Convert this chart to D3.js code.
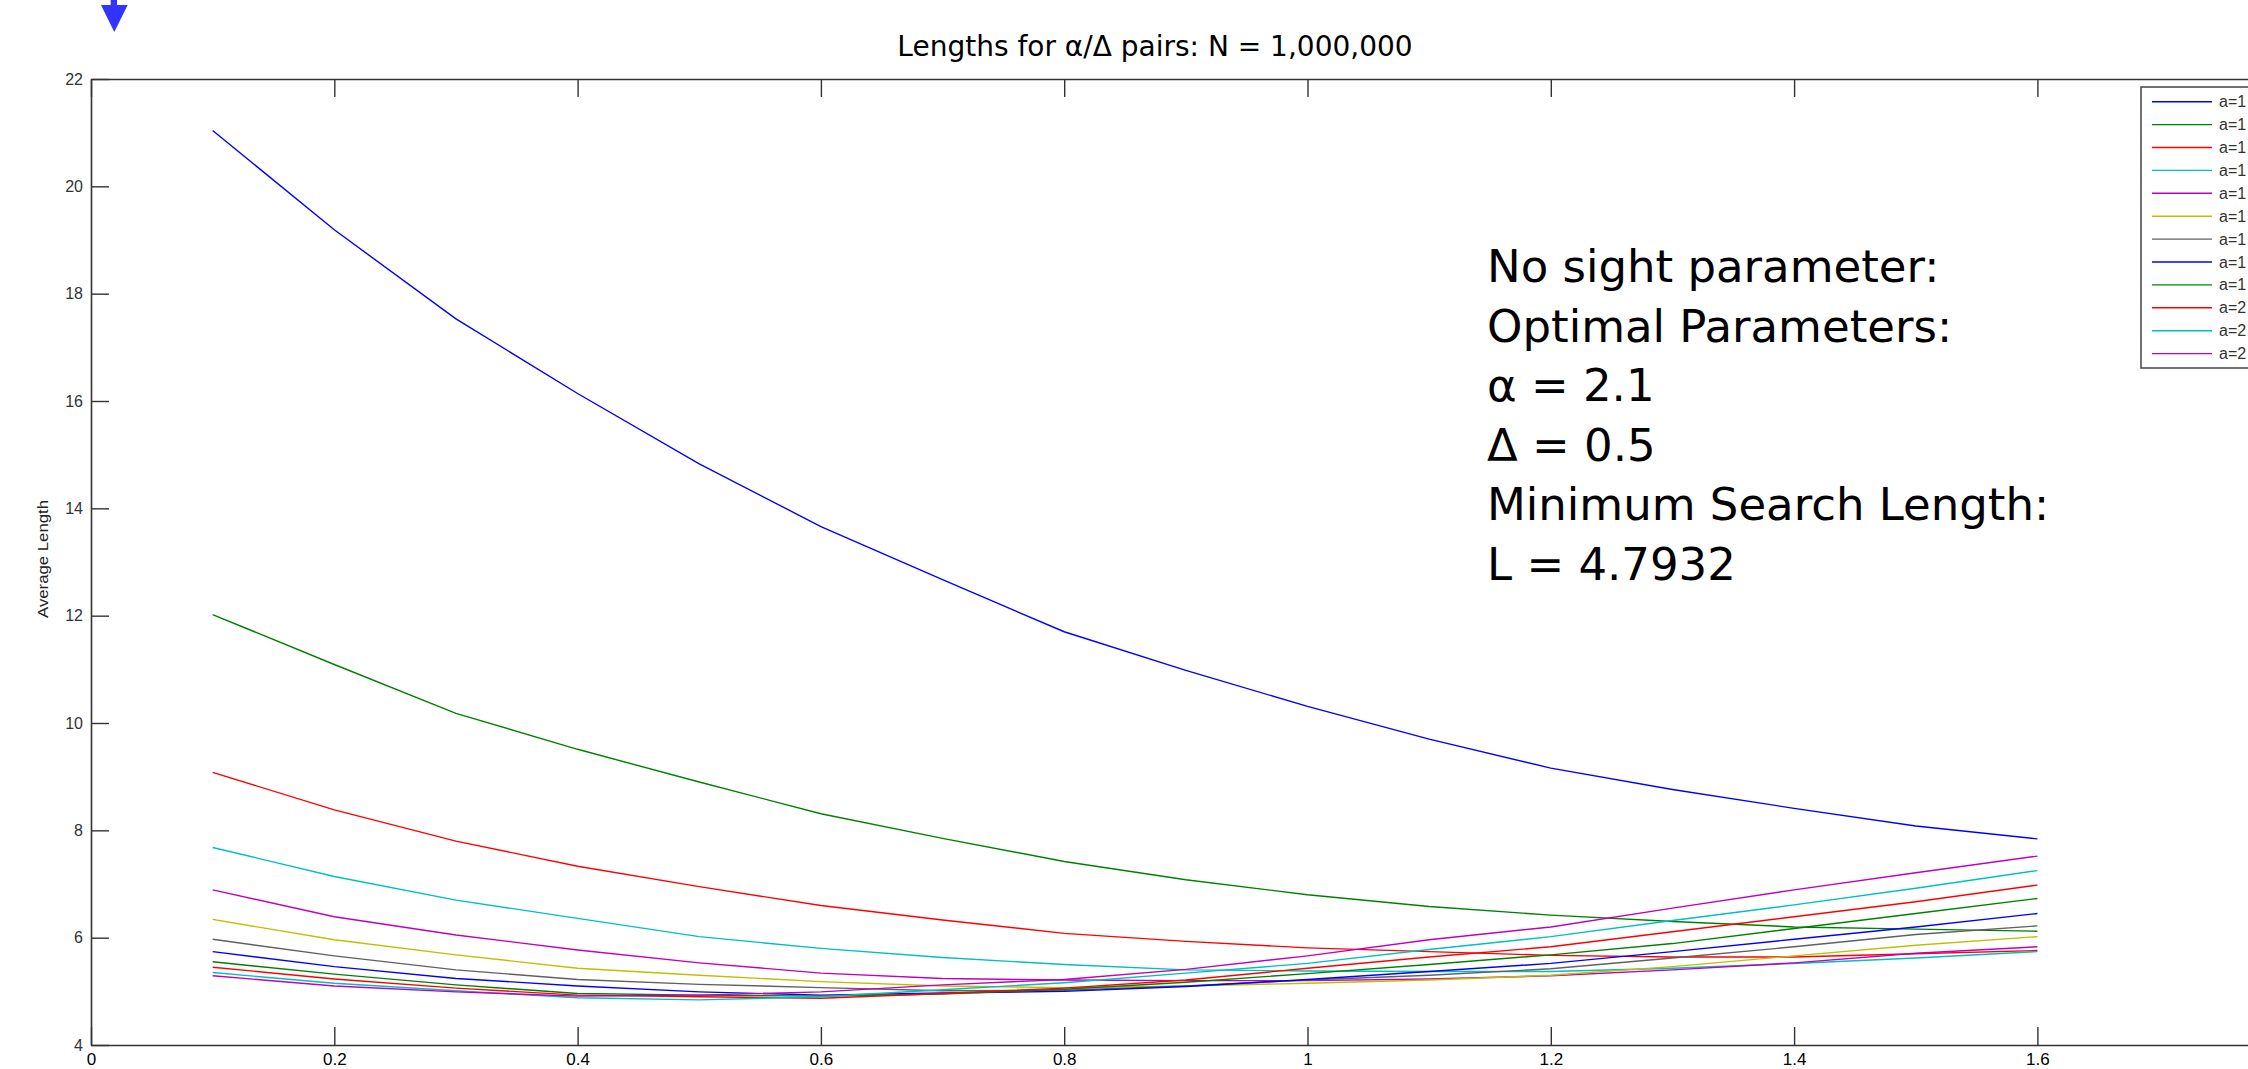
<!DOCTYPE html>
<html>
<head>
<meta charset="utf-8">
<script src="https://cdn.jsdelivr.net/npm/d3@7"></script>
<style>
  html, body { margin: 0; padding: 0; background: #fff; overflow: hidden; }
  svg { display: block; overflow: hidden; }
</style>
</head>
<body>
<svg id="chart" width="2248" height="1069"></svg>
<script>
// ---------------- data ----------------
const deltas = [0.1,0.2,0.3,0.4,0.5,0.6,0.7,0.8,0.9,1.0,1.1,1.2,1.3,1.4,1.5,1.6];
// legend labels as visible in the (cropped) reference
const seriesNames = ["a=1","a=1","a=1","a=1","a=1","a=1","a=1","a=1","a=1","a=2","a=2","a=2"];
const s1  = [21.04,19.19,17.53,16.14,14.83,13.66,12.67,11.70,10.98,10.31,9.70,9.16,8.76,8.41,8.08,7.84];
const s2  = [12.02,11.09,10.18,9.51,8.90,8.31,7.85,7.42,7.08,6.80,6.58,6.42,6.30,6.20,6.16,6.12];
const s3  = [9.08,8.38,7.80,7.33,6.95,6.60,6.33,6.08,5.93,5.81,5.74,5.67,5.64,5.64,5.70,5.76];
const s4  = [7.68,7.14,6.70,6.36,6.02,5.80,5.63,5.50,5.40,5.38,5.37,5.37,5.43,5.52,5.62,5.74];
const s5  = [6.89,6.39,6.05,5.77,5.53,5.34,5.24,5.21,5.20,5.20,5.23,5.29,5.40,5.53,5.71,5.83];
const s6  = [6.34,5.96,5.68,5.43,5.30,5.18,5.10,5.07,5.10,5.15,5.21,5.30,5.46,5.66,5.86,6.02];
const s7  = [5.97,5.66,5.40,5.22,5.13,5.07,5.01,5.02,5.10,5.21,5.30,5.42,5.62,5.83,6.06,6.22];
const s8  = [5.74,5.46,5.24,5.10,4.99,4.93,4.97,5.00,5.09,5.22,5.37,5.52,5.74,5.97,6.20,6.45];
const s9  = [5.55,5.32,5.12,4.96,4.93,4.91,4.95,5.04,5.17,5.33,5.50,5.68,5.89,6.17,6.45,6.73];
const s10 = [5.45,5.23,5.06,4.93,4.90,4.87,4.96,5.06,5.21,5.43,5.64,5.83,6.11,6.39,6.67,6.98];
const s11 = [5.35,5.15,5.01,4.88,4.84,4.90,5.03,5.16,5.34,5.52,5.78,6.02,6.32,6.61,6.92,7.25];
const s12 = [5.29,5.10,4.99,4.91,4.93,4.99,5.12,5.22,5.41,5.66,5.96,6.20,6.55,6.89,7.21,7.52];
const allSeries = [s1,s2,s3,s4,s5,s6,s7,s8,s9,s10,s11,s12];
const colors = ["#0000ff","#008000","#ff0000","#00bfbf","#bf00bf","#bfbf00","#606060","#0000ff","#008000","#ff0000","#00bfbf","#bf00bf"];
const xTicks = [0,0.2,0.4,0.6,0.8,1.0,1.2,1.4,1.6];
const yTicks = [4,6,8,10,12,14,16,18,20,22];
const titleText = "Lengths for \u03B1/\u0394 pairs: N = 1,000,000";
const yLabel = "Average Length";
const noteLines = ["No sight parameter:","Optimal Parameters:","\u03B1 = 2.1","\u0394 = 0.5","Minimum Search Length:","L = 4.7932"];

// ---------------- layout ----------------
const svg = d3.select("#chart");
const plotLeft = 91, plotTop = 79, plotBottom = 1045;
const x = d3.scaleLinear().domain([0, 1.8]).range([plotLeft, plotLeft + 1.8 * 1216.5]);
const y = d3.scaleLinear().domain([4, 22]).range([plotBottom, plotTop]);
const plotRight = x(1.8);

// lines
const line = d3.line().x((d, i) => x(deltas[i])).y(d => y(d));
svg.append("g").selectAll("path").data(allSeries).join("path")
  .attr("d", d => line(d))
  .attr("fill", "none")
  .attr("stroke", (d, i) => colors[i])
  .attr("stroke-width", 1.4);

// axes
const fmt = d => String(+(+d).toFixed(1));
const axColor = "#333";
function styleAxis(g, showText) {
  g.select(".domain").attr("stroke", axColor).attr("stroke-width", 1.6);
  g.selectAll(".tick line").attr("stroke", axColor).attr("stroke-width", 1.4);
  if (!showText) g.selectAll(".tick text").remove();
}
const gx = svg.append("g").attr("transform", `translate(0,${plotBottom})`)
  .call(d3.axisBottom(x).tickValues(xTicks).tickFormat(fmt).tickSizeInner(-18).tickSizeOuter(0).tickPadding(8));
styleAxis(gx, true);
gx.selectAll(".tick text").attr("font-family", "Liberation Sans, Arial, sans-serif").attr("font-size", 17).attr("fill", "#000");

const gxt = svg.append("g").attr("transform", `translate(0,${plotTop})`)
  .call(d3.axisTop(x).tickValues(xTicks).tickSizeInner(-18).tickSizeOuter(0));
styleAxis(gxt, false);

const gy = svg.append("g").attr("transform", `translate(${plotLeft},0)`)
  .call(d3.axisLeft(y).tickValues(yTicks).tickFormat(fmt).tickSizeInner(-18).tickSizeOuter(0).tickPadding(8));
styleAxis(gy, true);
gy.selectAll(".tick text").attr("font-family", "Liberation Sans, Arial, sans-serif").attr("font-size", 16).attr("fill", "#333");

// y label
svg.append("text")
  .attr("transform", `translate(48,559) rotate(-90)`)
  .attr("text-anchor", "middle")
  .attr("font-family", "Liberation Sans, Arial, sans-serif")
  .attr("font-size", 14)
  .attr("fill", "#222")
  .attr("textLength", 118)
  .attr("lengthAdjust", "spacingAndGlyphs")
  .text(yLabel);

// title
svg.append("text")
  .attr("x", 1155).attr("y", 56)
  .attr("text-anchor", "middle")
  .attr("font-family", "DejaVu Sans, sans-serif")
  .attr("font-size", 28)
  .attr("fill", "#000")
  .text(titleText);

// annotation
svg.append("g").selectAll("text").data(noteLines).join("text")
  .attr("x", 1487)
  .attr("y", (d, i) => 282 + i * 59.5)
  .attr("font-family", "DejaVu Sans, sans-serif")
  .attr("font-size", 45)
  .attr("fill", "#000")
  .text(d => d);

// legend
const lg = svg.append("g");
lg.append("rect").attr("x", 2141).attr("y", 87).attr("width", 300).attr("height", 281)
  .attr("fill", "#fff").attr("stroke", "#444").attr("stroke-width", 1.5);
const rows = lg.selectAll("g.row").data(seriesNames).join("g").attr("class", "row")
  .attr("transform", (d, i) => `translate(0,${101.7 + i * 22.9})`);
rows.append("line").attr("x1", 2152).attr("x2", 2212).attr("y1", 0).attr("y2", 0)
  .attr("stroke", (d, i) => colors[i]).attr("stroke-width", 1.4);
rows.append("text").attr("x", 2219).attr("y", 5.5)
  .attr("font-family", "Liberation Sans, Arial, sans-serif")
  .attr("font-size", 16).attr("fill", "#333")
  .text(d => d);

// blue arrow marker at top-left
svg.append("path")
  .attr("d", "M110.7,0 L117,0 L117,5 L127.7,5 L114.3,32 L101,5 L110.7,5 Z")
  .attr("fill", "#3333ff");
</script>
</body>
</html>
